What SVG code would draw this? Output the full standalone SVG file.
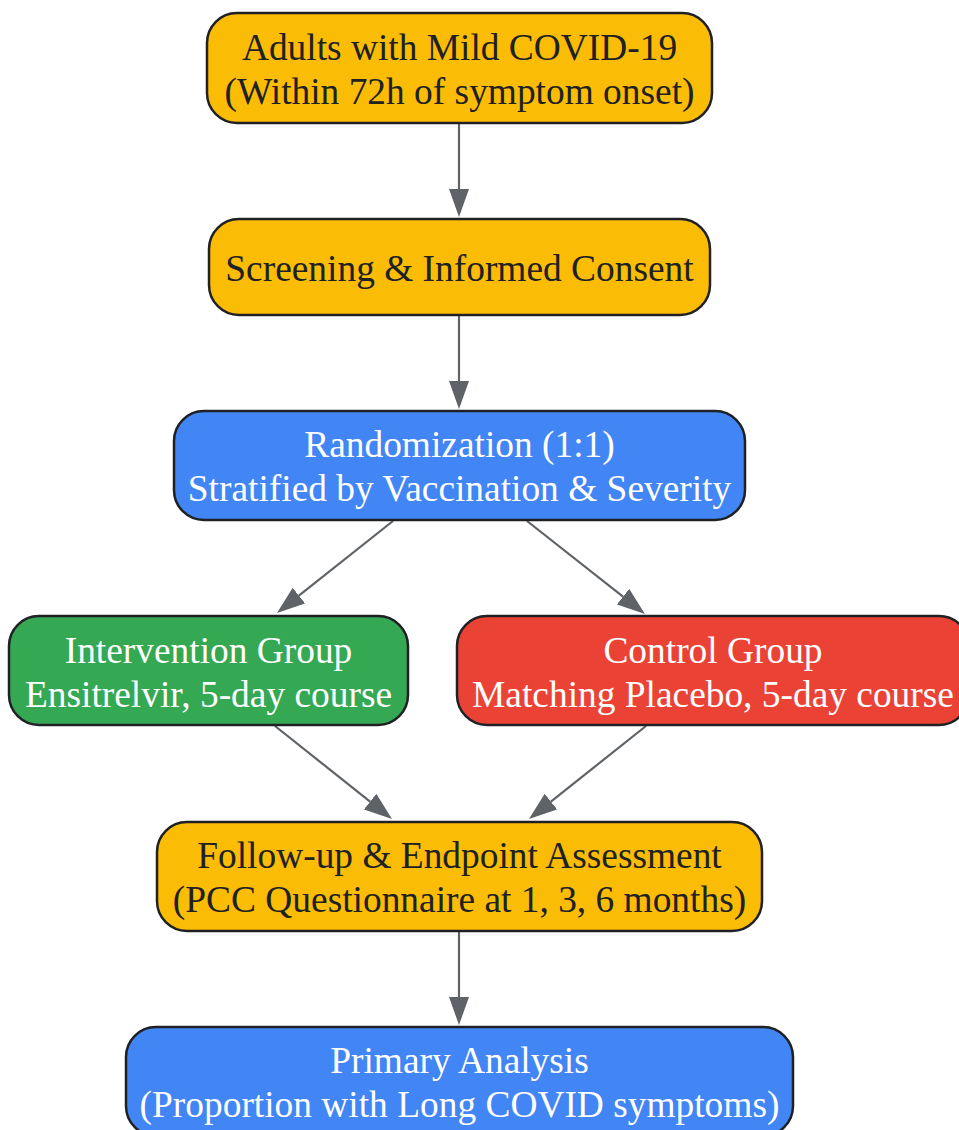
<svg xmlns="http://www.w3.org/2000/svg" width="959" height="1130" viewBox="0 0 959 1130">
<style>
.n{stroke:#202124;stroke-width:2.5}
.y{fill:#FBBC05}
.b{fill:#4285F4}
.g{fill:#34A853}
.r{fill:#EA4335}
text{font-family:"Liberation Serif","Times New Roman",serif;font-size:37.4px;text-anchor:middle}
.dk{fill:#202124}
.wt{fill:#ffffff}
.e line{stroke:#5F6368;stroke-width:2.2;marker-end:url(#ah)}
</style>
<defs>
<marker id="ah" markerUnits="userSpaceOnUse" markerWidth="28" markerHeight="20" refX="0" refY="10" orient="auto" viewBox="0 0 28 20">
<path d="M0,0 L28,10 L0,20 z" fill="#5F6368"/>
</marker>
</defs>
<rect width="959" height="1130" fill="#ffffff"/>
<g id="edges" class="e">
<line x1="459" y1="123" x2="459" y2="189"/>
<line x1="459" y1="315" x2="459" y2="381"/>
<line x1="393" y1="521" x2="298.9" y2="595.6"/>
<line x1="527" y1="521" x2="623" y2="596.7"/>
<line x1="275" y1="726" x2="370.1" y2="801.6"/>
<line x1="646" y1="726" x2="550.9" y2="801.6"/>
<line x1="459" y1="931" x2="459" y2="997"/>
</g>
<g id="n1"><rect class="n y" x="207" y="13" width="505" height="110" rx="30"/>
<text class="dk" x="459.5" y="60">Adults with Mild COVID-19</text>
<text class="dk" x="459.5" y="104">(Within 72h of symptom onset)</text></g>
<g id="n2"><rect class="n y" x="209" y="219" width="501" height="96" rx="30"/>
<text class="dk" x="459.5" y="281">Screening &amp; Informed Consent</text></g>
<g id="n3"><rect class="n b" x="174" y="411" width="571" height="109" rx="30"/>
<text class="wt" x="459.5" y="457">Randomization (1:1)</text>
<text class="wt" x="459.5" y="501">Stratified by Vaccination &amp; Severity</text></g>
<g id="n4"><rect class="n g" x="9" y="616" width="399" height="109" rx="30"/>
<text class="wt" x="208.5" y="663">Intervention Group</text>
<text class="wt" x="208.5" y="707">Ensitrelvir, 5-day course</text></g>
<g id="n5"><rect class="n r" x="457" y="616" width="512" height="109" rx="30"/>
<text class="wt" x="713" y="663">Control Group</text>
<text class="wt" x="713" y="707">Matching Placebo, 5-day course</text></g>
<g id="n6"><rect class="n y" x="157" y="822" width="605" height="109" rx="30"/>
<text class="dk" x="459.5" y="868">Follow-up &amp; Endpoint Assessment</text>
<text class="dk" x="459.5" y="912">(PCC Questionnaire at 1, 3, 6 months)</text></g>
<g id="n7"><rect class="n b" x="126" y="1027" width="667" height="109" rx="30"/>
<text class="wt" x="459.5" y="1073">Primary Analysis</text>
<text class="wt" x="459.5" y="1117">(Proportion with Long COVID symptoms)</text></g>
</svg>
